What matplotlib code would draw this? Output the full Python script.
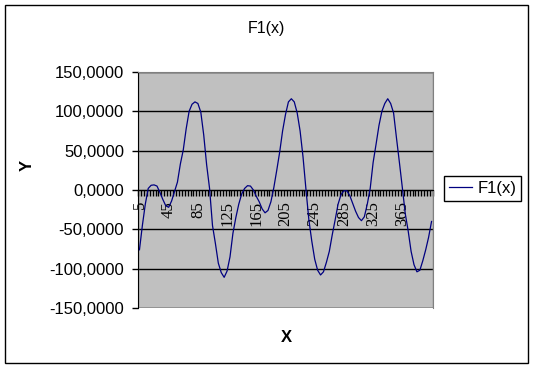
import matplotlib
matplotlib.use("Agg")
import matplotlib.pyplot as plt
from matplotlib.patches import Rectangle
from matplotlib.ticker import FuncFormatter

# data (category axis, one point every 4 units of x)
x_vals = list(range(5, 406, 4))
f1 = [-76, -45, -18, 2, 6, 6.5, 5, -3, -12, -20,
      -22, -14, -2, 10, 33, 51, 78, 100, 109, 112,
      110, 99, 70, 32, 2, -45, -68, -93, -105, -111,
      -103, -85, -55, -35, -18, -5, 2, 5.5, 5, 0,
      -8, -15, -24, -29, -26, -15, 3, 25, 48, 75,
      96, 112, 116, 112, 98, 75, 42, 1, -38, -65,
      -88, -102, -108, -104, -92, -78, -57, -38, -18, -6,
      -1, -1, -7, -17, -27, -35, -39, -34, -18, 2,
      35, 58, 82, 100, 110, 116, 110, 98, 66, 35,
      3, -30, -52, -78, -95, -104, -102, -90, -76, -60,
      -40]
y_ticks = [-150, -100, -50, 0, 50, 100, 150]
label_step = 10
last_label = 90  # 365 is the last label shown

W, H = 533, 368
fig = plt.figure(figsize=(W / 100, H / 100), dpi=100)
fig.patch.set_facecolor("white")

# chart area frame
fig.patches.append(Rectangle((5 / W, 5 / H), 523 / W, 358 / H, transform=fig.transFigure,
                             fill=False, edgecolor="black", lw=1))

ax = fig.add_axes([138 / W, 60 / H, 295 / W, 236 / H])
ax.set_facecolor("#C0C0C0")

idx = list(range(len(f1)))
ax.plot(idx, f1, color="#000080", lw=0.9, label="F1(x)", zorder=3)

ax.set_xlim(-0.5, len(f1) - 0.5)
ax.set_ylim(-150, 150)

# value axis
ax.set_yticks(y_ticks)
ax.yaxis.set_major_formatter(FuncFormatter(lambda v, p: f"{v:.4f}".replace(".", ",")))
ax.tick_params(axis="y", direction="out", length=4, width=1, color="black", pad=6,
               labelsize=12, labelfontfamily="Liberation Sans")
ax.set_axisbelow(True)
ax.yaxis.grid(True, color="black", lw=1)

# category axis crossing at 0
ax.spines["bottom"].set_position(("data", 0))
ax.spines["bottom"].set_color("black")
ax.spines["left"].set_color("black")
ax.spines["top"].set_color("#808080")
ax.spines["right"].set_color("#808080")
ax.add_patch(Rectangle((0, 0), 1, 1, transform=ax.transAxes, fill=False,
                       edgecolor="#808080", lw=1, zorder=2))

ax.set_xticks(idx[:last_label + 1:label_step])
ax.set_xticklabels([str(v) for v in x_vals[:last_label + 1:label_step]], rotation=90,
                   family="Liberation Serif", fontsize=12)
ax.set_xticks([i - 0.5 for i in range(len(f1) + 1)], minor=True)
ax.tick_params(axis="x", which="major", length=0, pad=8)
ax.tick_params(axis="x", which="minor", direction="out", length=4, width=1, color="black")

fig.text(266 / W, 1 - 28 / H, "F1(x)", ha="center", va="center",
         family="Liberation Sans", fontsize=11.5)
fig.text(27 / W, 1 - 165 / H, "Y", ha="center", va="center", rotation=90,
         family="Liberation Sans", fontsize=12, fontweight="bold")
fig.text(286 / W, 1 - 337 / H, "X", ha="center", va="center",
         family="Liberation Sans", fontsize=12, fontweight="bold")

leg = fig.legend(loc="center left", bbox_to_anchor=(444 / W, 1 - 188 / H),
                 prop={"family": "Liberation Sans", "size": 12},
                 fancybox=False, framealpha=1, edgecolor="black",
                 handlelength=1.4, handletextpad=0.3, borderpad=0.3,
                 borderaxespad=0)
leg.get_frame().set_linewidth(1)

fig.savefig("out.png", dpi=100)
